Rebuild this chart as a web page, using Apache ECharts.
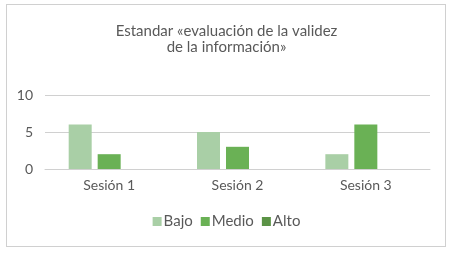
<!DOCTYPE html>
<html>
<head>
<meta charset="utf-8">
<script src="https://cdn.jsdelivr.net/npm/echarts@6/dist/echarts.min.js"></script>
<style>
  html, body { margin: 0; padding: 0; background: #fff; }
  #frame { position: absolute; left: 6px; top: 4px; width: 440px; height: 243px; border: 1px solid #d0d0d0; box-sizing: border-box; }
  #chart { width: 453px; height: 254px; }
</style>
</head>
<body>
<div id="frame"></div>
<div id="chart"></div>
<script>
var sesiones = ['Sesión 1', 'Sesión 2', 'Sesión 3'];
var bajo = [6, 5, 2];
var medio = [2, 3, 6];
var alto = [0, 0, 0];
var nombres = ['Bajo', 'Medio', 'Alto'];
var colores = ['#a9cfa6', '#6ab155', '#5b9346'];

var fuente = 'Lato, "Noto Sans", sans-serif';
var myChart = echarts.init(document.getElementById('chart'));
var option = {
  animation: false,
  color: colores,
  textStyle: { fontFamily: fuente, color: '#595959' },
  title: {
    text: 'Estandar «evaluación de la validez\nde la información»',
    left: 'center',
    top: 18,
    textStyle: { fontSize: 15, fontWeight: 'normal', color: '#595959', lineHeight: 16, fontFamily: fuente }
  },
  legend: {
    data: nombres,
    bottom: 20,
    left: 'center',
    itemWidth: 9,
    itemHeight: 9,
    itemGap: 8,
    icon: 'rect',
    textStyle: { fontSize: 15, color: '#595959', padding: [0, 0, 0, -3] }
  },
  grid: { left: 45, right: 23, top: 95, bottom: 85, containLabel: false },
  xAxis: {
    type: 'category',
    data: sesiones,
    axisLine: { lineStyle: { color: '#d0d0d0' } },
    axisTick: { show: false },
    axisLabel: { fontSize: 14, color: '#595959', margin: 9 }
  },
  yAxis: {
    type: 'value',
    min: 0,
    max: 10,
    interval: 5,
    axisLine: { show: false },
    axisTick: { show: false },
    splitLine: { lineStyle: { color: '#d0d0d0' } },
    axisLabel: { fontSize: 14, color: '#595959', margin: 12 }
  },
  series: [
    { name: 'Bajo', type: 'bar', data: bajo, barWidth: 23, barGap: '26%' },
    { name: 'Medio', type: 'bar', data: medio, barWidth: 23, barGap: '26%' },
    { name: 'Alto', type: 'bar', data: alto, barWidth: 23, barGap: '26%' }
  ]
};
myChart.setOption(option);
</script>
</body>
</html>
